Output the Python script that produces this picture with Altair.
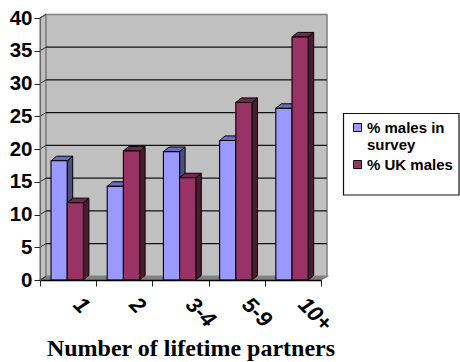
import altair as alt
import pandas as pd

categories = ["1", "2", "3-4", "5-9", "10+"]
survey_pct = [18.2, 14.3, 19.6, 21.3, 26.2]
uk_pct = [11.8, 19.7, 15.6, 27.1, 37.1]
y_ticks = [0, 5, 10, 15, 20, 25, 30, 35, 40]
series_names = ["% males in survey", "% UK males"]

FRONT = ["#9999FF", "#993366"]
TOP = ["#6C6CC0", "#732650"]
SIDE = ["#4D4D80", "#4D1A33"]

# Sizes of the pseudo-3D projection, in data units
BAR_LEFT, BAR_W = 0.196, 0.288
DEPTH_X, DEPTH_Y = 0.098, 0.7
WALL_X, WALL_Y = 0.107, 0.55
WALL = "#C0C0C0"
XDOM = alt.Scale(domain=[0, 5])
YDOM = alt.Scale(domain=[0, 40])

X_AXIS = alt.Axis(
    values=list(range(6)), labels=False, ticks=True, tickSize=6,
    tickColor="#222222", domainColor="#000000", domainWidth=1.3,
    grid=False, title=None, zindex=1,
)
Y_AXIS = alt.Axis(
    values=y_ticks, tickSize=6, tickColor="#222222", domainColor="#666666",
    grid=False, labelFont="Liberation Sans", labelFontWeight="bold",
    labelFontSize=20.5, labelColor="#000000", labelPadding=2, title=None, zindex=1,
)


def q(field):
    return alt.X(field, type="quantitative", scale=XDOM, axis=X_AXIS, title=None)


def v(field):
    return alt.Y(field, type="quantitative", scale=YDOM, axis=Y_AXIS, title=None)


# Faces of each bar, built from the series values
fronts, sides, tops = [], [], []
for s, values in enumerate([survey_pct, uk_pct]):
    for c, val in enumerate(values):
        x0 = c + BAR_LEFT + s * BAR_W
        x1 = x0 + BAR_W
        key = f"{s}-{c}"
        fronts.append(dict(s=s, name=series_names[s], x=x0, x2=x1, y=0, y2=val))
        sides += [
            dict(s=s, k=key, x=x1, y=0, y2=val),
            dict(s=s, k=key, x=x1 + DEPTH_X, y=DEPTH_Y, y2=val + DEPTH_Y),
        ]
        tops += [
            dict(s=s, k=key, x=x0, y=val, y2=val),
            dict(s=s, k=key, x=x0 + DEPTH_X, y=val, y2=val + DEPTH_Y),
            dict(s=s, k=key, x=x1, y=val, y2=val + DEPTH_Y),
            dict(s=s, k=key, x=x1 + DEPTH_X, y=val + DEPTH_Y, y2=val + DEPTH_Y),
        ]
fronts, sides, tops = map(pd.DataFrame, (fronts, sides, tops))


def parallelogram(rows, color, stroke="#808080", width=1.2):
    return (
        alt.Chart(pd.DataFrame(rows))
        .mark_area(fill=color, stroke=stroke, strokeWidth=width)
        .encode(x=q("x"), y=v("y"), y2=alt.Y2("y2"))
    )


left_wall = parallelogram(
    [dict(x=0, y=0, y2=40), dict(x=WALL_X, y=WALL_Y, y2=40 + WALL_Y)], WALL
)
back_wall = (
    alt.Chart(pd.DataFrame([dict(x=WALL_X, x2=5 + WALL_X, y=WALL_Y, y2=40 + WALL_Y)]))
    .mark_rect(fill=WALL, stroke="#808080", strokeWidth=1.5)
    .encode(x=q("x"), x2="x2", y=v("y"), y2="y2")
)
floor = parallelogram(
    [
        dict(x=0, y=0, y2=0),
        dict(x=WALL_X, y=0, y2=WALL_Y),
        dict(x=5, y=0, y2=WALL_Y),
        dict(x=5 + WALL_X, y=WALL_Y, y2=WALL_Y),
    ],
    "#808080",
)

grid_rows = pd.DataFrame(
    [dict(t=t, x=WALL_X, x2=5 + WALL_X, y=t + WALL_Y) for t in y_ticks[1:-1]]
)
grid = (
    alt.Chart(grid_rows)
    .mark_rule(color="#111111", strokeWidth=1.2)
    .encode(x=q("x"), x2="x2", y=v("y"))
)
slants = pd.DataFrame(
    [dict(t=t, o=0, x=0, y=t) for t in y_ticks]
    + [dict(t=t, o=1, x=WALL_X, y=t + WALL_Y) for t in y_ticks]
)
wall_ticks = (
    alt.Chart(slants)
    .mark_line(color="#333333", strokeWidth=1)
    .encode(x=q("x"), y=v("y"), detail="t:N", order="o:Q")
)

series_layers = []
for s in (0, 1):
    series_layers += [
        alt.Chart(sides[sides.s == s])
        .mark_area(fill=SIDE[s], stroke="#000000", strokeWidth=1)
        .encode(x=q("x"), y=v("y"), y2="y2", detail="k:N"),
        alt.Chart(tops[tops.s == s])
        .mark_area(fill=TOP[s], stroke="#000000", strokeWidth=1)
        .encode(x=q("x"), y=v("y"), y2="y2", detail="k:N"),
        alt.Chart(fronts[fronts.s == s])
        .mark_rect(stroke="#000000", strokeWidth=1.1)
        .encode(
            x=q("x"),
            x2="x2",
            y=v("y"),
            y2="y2",
            fill=alt.Fill(
                "name:N",
                scale=alt.Scale(domain=series_names, range=FRONT),
                legend=alt.Legend(
                    orient="none", legendX=310, legendY=102, title=None,
                    labelFont="Liberation Sans", labelFontWeight="bold",
                    labelFontSize=15, labelColor="#000000", labelLimit=110,
                    labelExpr="datum.label == '% males in survey' ? ['% males in', 'survey'] : datum.label",
                    symbolType="square", symbolSize=64, symbolStrokeColor="#000000",
                    symbolStrokeWidth=1, labelOffset=2, rowPadding=4, padding=0,
                ),
            ),
        ),
    ]

legend_box = (
    alt.Chart(pd.DataFrame({"x": [0]}))
    .mark_rect(fill="#FFFFFF", stroke="#111111", strokeWidth=1.2)
    .encode(x=alt.value(303.5), x2=alt.value(419), y=alt.value(95.5), y2=alt.value(177))
)

cat_labels = (
    alt.Chart(pd.DataFrame({"label": categories, "x": [i + 0.66 for i in range(5)]}))
    .mark_text(
        font="Liberation Sans", fontWeight="bold", fontStyle="italic", fontSize=22,
        angle=45, align="left", baseline="middle", color="#000000",
    )
    .encode(x=q("x"), y=alt.value(283), text="label:N")
)

x_title = (
    alt.Chart(pd.DataFrame({"t": ["Number of lifetime partners"]}))
    .mark_text(
        font="Liberation Serif", fontWeight="bold", fontSize=24, color="#000000",
        align="center", baseline="alphabetic",
    )
    .encode(text="t:N", x=alt.value(151), y=alt.value(338))
)

chart = (
    alt.layer(
        legend_box, left_wall, back_wall, floor, grid, wall_ticks,
        *series_layers, cat_labels, x_title,
    )
    .resolve_scale(fill="shared")
    .properties(
        width=281,
        height=262,
        padding={"left": 40, "top": 18, "right": 139, "bottom": 82},
        autosize=alt.AutoSizeParams(type="none"),
        background="#FFFFFF",
    )
    .configure_view(stroke=None)
)

chart.save("out.html", embed_options={"renderer": "svg", "actions": False})
